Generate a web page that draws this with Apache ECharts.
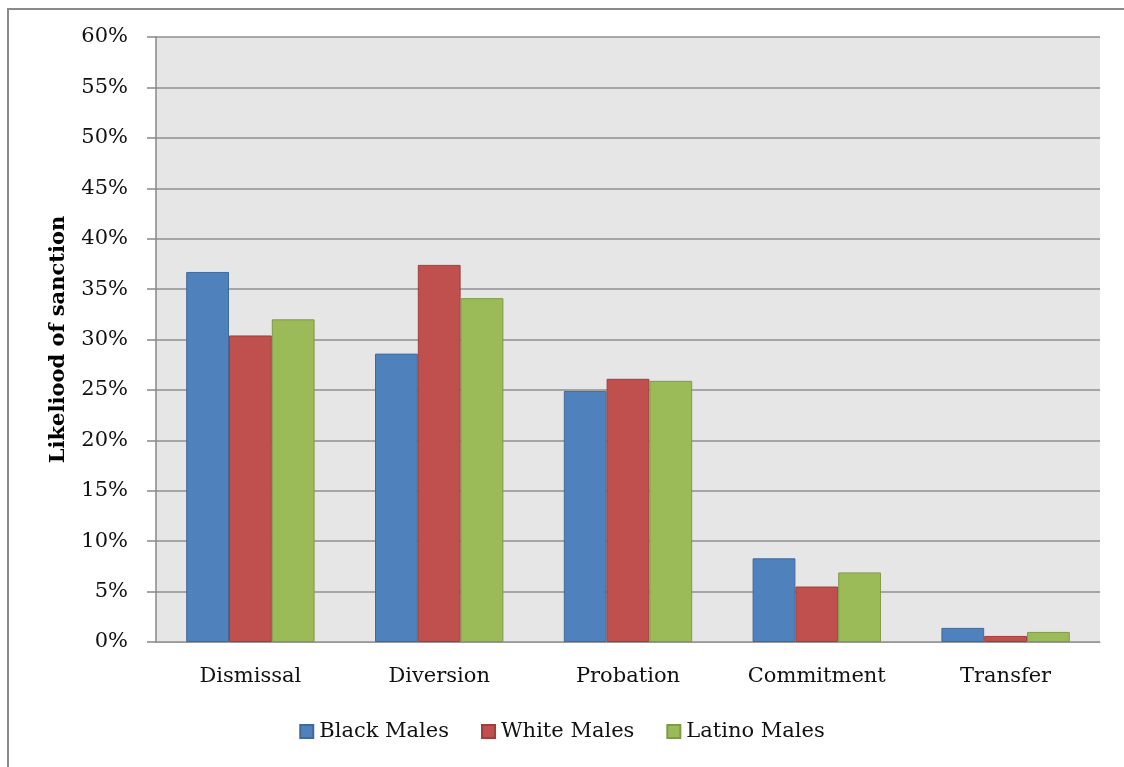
<!DOCTYPE html>
<html><head><meta charset="utf-8">
<script src="https://cdn.jsdelivr.net/npm/echarts@6/dist/echarts.min.js"></script>
<style>
html,body{margin:0;padding:0;background:#fff;overflow:hidden}
#frame{position:absolute;left:7px;top:8px;width:1140px;height:800px;border:2px solid #8a8a8a;box-sizing:border-box}
#c{position:absolute;left:0;top:0;width:1124px;height:767px}
</style></head>
<body>
<div id="frame"></div>
<div id="c"></div>
<script>
const categories = ['Dismissal','Diversion','Probation','Commitment','Transfer'];
const blackMales = [36.7, 28.6, 24.9, 8.3, 1.4];
const whiteMales = [30.4, 37.4, 26.1, 5.5, 0.6];
const latinoMales = [32.0, 34.1, 25.9, 6.9, 1.0];
const seriesNames = ['Black Males','White Males','Latino Males'];
const colors = ['#4f81bd','#c0504d','#9bbb59'];
const borders = ['#41699a','#9e3f3c','#7f9a48'];
const yTicks = {min:0, max:60, interval:5};
const font = 'DejaVu Serif';

const chart = echarts.init(document.getElementById('c'));
const mk = (name, data, i) => ({
  name, type:'bar', data,
  barGap:'0%', barCategoryGap:'32%',
  itemStyle:{color:colors[i], borderColor:borders[i], borderWidth:1},
  z:3
});
chart.setOption({
  animation:false,
  textStyle:{fontFamily:font},
  grid:{left:156, right:24, top:37, bottom:125, containLabel:false,
        show:true, backgroundColor:'#e6e6e6', borderWidth:0},
  legend:{bottom:20, left:'center', itemWidth:13, itemHeight:13, itemGap:32,
    icon:'rect', textStyle:{fontFamily:font, fontSize:21, color:'#111', padding:[0,0,0,1]},
    data:seriesNames},
  xAxis:{type:'category', data:categories,
    axisLine:{show:true, lineStyle:{color:'#999', width:1}},
    axisTick:{show:false},
    axisLabel:{fontFamily:font, fontSize:21, color:'#111', margin:24}},
  yAxis:{type:'value', min:yTicks.min, max:yTicks.max, interval:yTicks.interval,
    name:'Likeliood of sanction', nameLocation:'middle', nameGap:87,
    nameTextStyle:{fontFamily:font, fontSize:21, fontWeight:'bold', color:'#000'},
    axisLine:{show:true, lineStyle:{color:'#888', width:1.5}},
    axisTick:{show:true, length:9, inside:false, lineStyle:{color:'#888', width:1.5}},
    splitLine:{show:true, lineStyle:{color:'#8f8f8f', width:1.5}},
    axisLabel:{fontFamily:font, fontSize:21, color:'#111', margin:28, formatter:v=>v+'%'}},
  series:[mk(seriesNames[0], blackMales,0), mk(seriesNames[1], whiteMales,1), mk(seriesNames[2], latinoMales,2)]
});
</script>
</body></html>
